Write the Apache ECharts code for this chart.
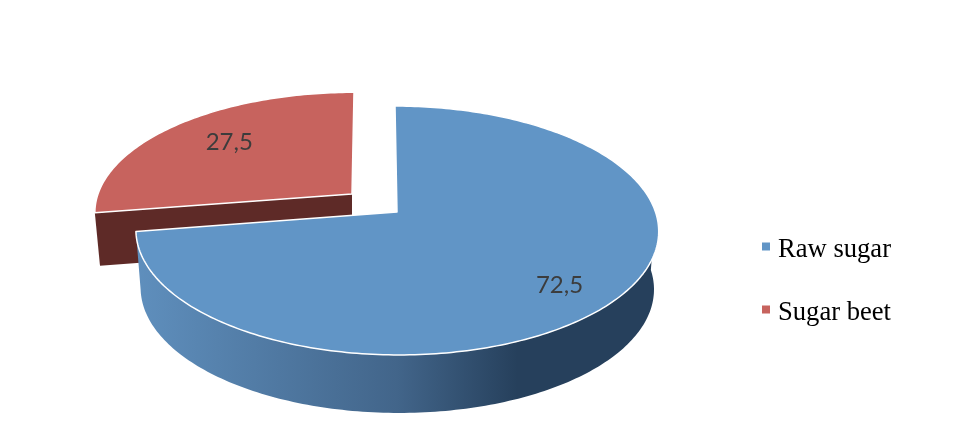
<!DOCTYPE html>
<html>
<head>
<meta charset="utf-8">
<style>html,body{margin:0;padding:0;background:#fff}#c{width:954px;height:428px}</style>
<script src="https://cdn.jsdelivr.net/npm/echarts@6/dist/echarts.min.js"></script>
</head>
<body>
<div id="c"></div>
<script>
const categories = ['Raw sugar', 'Sugar beet'];
const values = [72.5, 27.5];

const total = values.reduce((a, b) => a + b, 0);
const TAU = Math.PI * 2;
const P = 0.1486;               // perspective strength
const STEP = Math.PI / 180;

const layouts = [
  { ax: 397, ay: 212, kx: 258.5, ky: 121.7, depth: 58, bx: 0.982, lean: -2, labelR: 0.77, ldx: -2, ldy: 8 },
  { ax: 352, ay: 194, kx: 254, ky: 116.8, depth: 53, bx: 0.98, lean: 2, labelR: 0.70, ldx: 3, ldy: -2 }
];
const faceColors = ['#6195c6', '#c7635e'];
const sideFills = [
  new echarts.graphic.LinearGradient(0, 0, 1, 0, [
    { offset: 0, color: '#5f8fbd' },
    { offset: 0.5, color: '#42658a' },
    { offset: 0.73, color: '#26405c' },
    { offset: 1, color: '#26405c' }
  ]),
  '#5e2a27'
];

function project(l, theta, r) {
  const u = Math.sin(theta) * r, v = Math.cos(theta) * r, d = 1 + P * v;
  return [l.ax + l.kx * u / d + l.lean * v, l.ay - l.ky * v / d];
}
function lower(l, pt) {
  return [l.ax + (pt[0] - l.ax) * l.bx, pt[1] + l.depth];
}
function arc(l, a, b) {
  const pts = [];
  const n = Math.max(2, Math.ceil((b - a) / STEP));
  for (let i = 0; i <= n; i++) pts.push(project(l, a + (b - a) * i / n, 1));
  return pts;
}
function render(index) {
  return function (params, api) {
    const value = api.value(0);
    let before = 0;
    for (let i = 0; i < index; i++) before += values[i];
    const a0 = before / total * TAU, a1 = (before + value) / total * TAU;
    const l = layouts[index];
    const top = arc(l, a0, a1);
    const apex = [l.ax, l.ay];
    let wall;
    if (index === 0) {
      const vis = arc(l, Math.PI / 2, a1);
      wall = vis.concat(vis.slice().reverse().map(p => lower(l, p)));
    } else {
      const c = top[0];
      wall = [apex, c, lower(l, c), lower(l, apex)];
    }
    const mid = (a0 + a1) / 2;
    const lp = project(l, mid, l.labelR);
    return {
      type: 'group',
      children: [
        { type: 'polygon', shape: { points: wall }, style: { fill: sideFills[index] }, silent: true },
        { type: 'polygon', shape: { points: [apex].concat(top) },
          style: { fill: faceColors[index], stroke: '#fff', lineWidth: 1.5, lineJoin: 'round' }, silent: true },
        { type: 'text', x: lp[0] + l.ldx, y: lp[1] + l.ldy,
          style: { text: String(value).replace('.', ','), fill: '#3c3c3c',
            font: '24px Lato', align: 'center', verticalAlign: 'middle' }, silent: true }
      ]
    };
  };
}
const paintOrder = [1, 0];
const option = {
  backgroundColor: '#fff',
  animation: false,
  legend: {
    data: categories,
    orient: 'vertical',
    left: 757,
    top: 232,
    itemWidth: 8,
    itemHeight: 8,
    itemGap: 36,
    icon: 'rect',
    formatter: '{a|{name}}',
    textStyle: {
      color: '#000',
      rich: { a: { color: '#000', fontFamily: 'Liberation Serif', fontSize: 26.6, padding: [8, 0, 0, 3] } }
    }
  },
  series: paintOrder.map(i => ({
    type: 'custom',
    name: categories[i],
    coordinateSystem: 'none',
    itemStyle: { color: faceColors[i] },
    renderItem: render(i),
    data: [[values[i]]]
  }))
};
echarts.init(document.getElementById('c'), null, { renderer: 'canvas' }).setOption(option);
</script>
</body>
</html>
